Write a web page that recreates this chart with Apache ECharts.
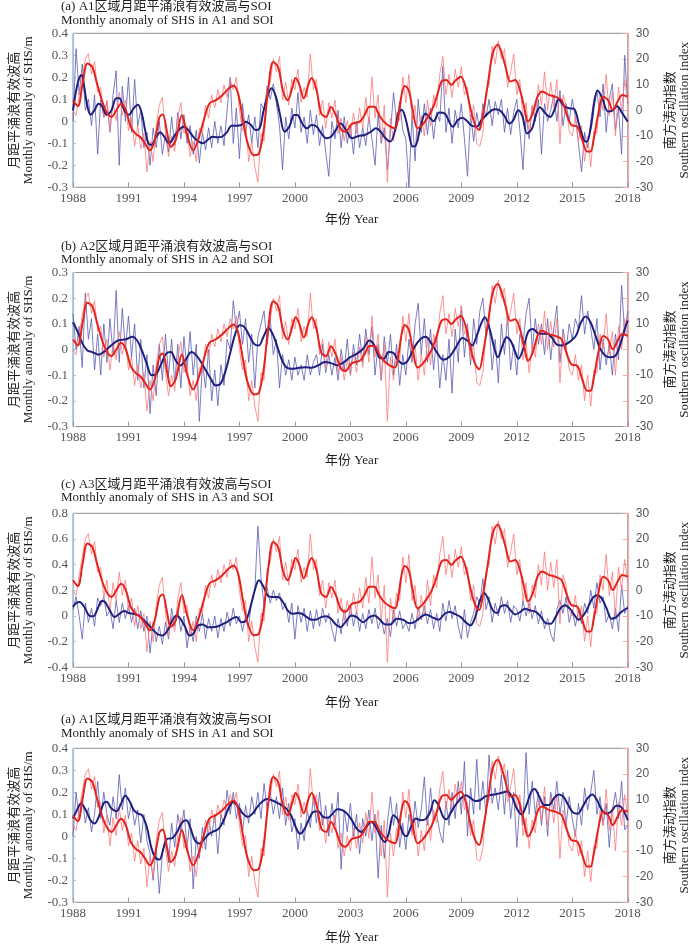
<!DOCTYPE html>
<html><head><meta charset="utf-8">
<script src="https://cdn.jsdelivr.net/npm/echarts@6/dist/echarts.min.js"></script>
<style>html,body{margin:0;padding:0;background:#fff}#c{width:700px;height:944px}</style>
</head><body><div id="c"></div>
<script>
// ---------- DATA ----------
const START_YEAR = 1988;
const END_YEAR = 2018;
const titlesCN = ['(a) A1区域月距平涌浪有效波高与SOI','(b) A2区域月距平涌浪有效波高与SOI','(c) A3区域月距平涌浪有效波高与SOI','(a) A1区域月距平涌浪有效波高与SOI'];
const titlesEN = ['Monthly anomaly of SHS in A1 and SOI','Monthly anomaly of SHS in A2 and SOI','Monthly anomaly of SHS in A3 and SOI','Monthly anomaly of SHS in A1 and SOI'];
const leftMin = [-0.3,-0.3,-0.4,-0.3];
const leftMax = [0.4,0.3,0.8,0.4];
const leftStep = [0.1,0.1,0.2,0.1];
const soiMin = -30, soiMax = 30, soiStep = 10;
const yearStep = 3;
const leftName = '月距平涌浪有效波高\nMonthly anomaly of SHS/m';
const rightName = '南方涛动指数\nSouthern oscillation index';
const xName = '年份 Year';

// bimonthly samples starting 1988.0 (6 per year)
const soiThin = [
0,-2,6,13,20,22, 14,19,7,9,-3,4, -8,3,-4,7,-2,4, -8,-3,-14,-6,-15,-9, -24,-12,-20,-6,2,5,
-9,-18,-10,-16,-3,3, -9,-6,-18,-12,-20,-7, -9,2,-3,6,1,8, 3,10,5,12,8,13, 0,-8,-4,-20,-12,-22,
-28,-9,-12,8,11,20, 15,21,4,11,2,12, 8,16,3,9,5,22, 8,12,-2,4,-7,3, -3,4,-9,-3,-12,-4,
-10,-1,-9,1,-7,5, -5,13,-3,6,-12,2, -28,-3,-12,-1,-4,13, 3,14,-4,2,-12,-2, -10,4,-6,6,1,14,
21,6,14,5,16,9, 17,6,9,-4,2,-13, -14,-9,7,10,25,18, 27,20,24,9,15,22, 6,12,-4,3,-9,2,
-3,10,2,15,0,11, 1,12,-13,6,2,-8, -10,-2,-12,-6,-20,-10, -22,-8,-9,6,0,14, -2,7,-10,9,0,12,
3];
const soiSmooth = [[1988.0,3.9],[1988.26,1.6],[1988.52,10.4],[1988.78,18.2],[1989.04,16.9],[1989.3,10.4],[1989.56,3.9],[1989.82,-0.7],[1990.08,-2.6],[1990.34,0],[1990.6,2.6],[1990.86,0],[1991.12,-6.5],[1991.38,-9.1],[1991.64,-10.4],[1991.9,-13],[1992.16,-15.6],[1992.42,-11.7],[1992.68,-2.6],[1992.85,-1.6],[1993.1,-9.1],[1993.28,-14.3],[1993.55,-11.7],[1993.89,-1.9],[1994.15,-9.1],[1994.5,-15.6],[1994.76,-11.7],[1995.02,-5.2],[1995.37,2.6],[1995.71,3.9],[1996.06,5.8],[1996.41,8.4],[1996.67,9.7],[1996.93,6.5],[1997.19,-3.9],[1997.45,-13],[1997.79,-17.5],[1998.05,-16.9],[1998.31,-7.8],[1998.57,9.1],[1998.83,18.8],[1999.09,16.9],[1999.35,7.8],[1999.61,3.9],[1999.87,9.1],[2000.04,12.6],[2000.22,10.4],[2000.48,4.7],[2000.74,10.4],[2000.91,12.6],[2001.17,7.8],[2001.43,-1.3],[2001.69,-2.6],[2001.95,1.3],[2002.21,-1.9],[2002.47,-7.1],[2002.73,-8.4],[2003.08,-5.3],[2003.51,-4.4],[2003.77,-1.8],[2004.03,1.4],[2004.29,1.4],[2004.55,-1.8],[2004.81,-4.4],[2005.16,-6.4],[2005.42,-7.0],[2005.59,-2.5],[2005.77,6.0],[2005.94,9.5],[2006.15,7.9],[2006.37,0.1],[2006.63,-7.0],[2006.89,-5.7],[2007.15,-3.1],[2007.41,0.1],[2007.67,5.3],[2007.93,11.2],[2008.19,11.8],[2008.45,9.9],[2008.71,11.8],[2008.97,13.1],[2009.23,9.2],[2009.49,0.8],[2009.75,-5.7],[2009.96,-7.7],[2010.18,-1.2],[2010.44,10.5],[2010.7,22.2],[2010.96,25.5],[2011.13,23.5],[2011.39,17.0],[2011.65,11.2],[2011.91,11.8],[2012.17,7.9],[2012.43,0.1],[2012.6,-4.4],[2012.86,-1.2],[2013.12,5.3],[2013.38,7.3],[2013.73,6.0],[2014.07,5.3],[2014.42,4.0],[2014.68,-1.2],[2014.94,-5.7],[2015.28,-6.4],[2015.54,-11.6],[2015.8,-16.1],[2015.98,-16.1],[2016.15,-11.6],[2016.41,-1.2],[2016.67,5.3],[2016.93,4.0],[2017.19,0.1],[2017.45,3.4],[2017.71,6.0],[2018.0,5.3]];

const shsThinA1 = [
0.0,0.33,0.12,0.26,0.05,0.1, -0.02,0.12,-0.15,0.1,0.02,0.09, -0.05,0.12,0.23,-0.2,0.16,0.0, 0.2,-0.05,0.19,-0.02,0.05,-0.12, -0.05,-0.2,-0.03,-0.12,0.0,-0.15,
-0.06,-0.14,0.02,-0.11,0.04,-0.08, 0.03,-0.1,-0.02,-0.15,-0.04,-0.19, -0.05,-0.13,-0.03,-0.12,0.0,-0.1, -0.02,-0.11,0.05,0.2,-0.1,0.06, -0.17,0.08,-0.05,0.03,-0.1,0.02,
-0.12,0.08,0.05,0.16,0.1,0.17, 0.08,-0.02,-0.22,0.02,-0.08,0.06, -0.03,0.13,-0.05,0.02,-0.1,0.05, -0.06,0.03,-0.11,-0.02,-0.14,-0.25, 0.0,-0.08,0.05,-0.12,0.02,-0.1,
-0.02,-0.15,0.0,-0.12,-0.03,-0.11, 0.02,-0.08,-0.2,0.03,-0.1,-0.03, -0.22,-0.05,0.13,0.0,0.09,-0.04, -0.08,-0.3,0.03,-0.18,0.1,-0.05, 0.08,-0.06,0.06,-0.08,0.04,0.0,
0.25,-0.05,0.06,-0.1,0.05,-0.03, 0.08,-0.08,-0.25,0.03,-0.09,0.04, -0.04,0.08,0.02,0.1,-0.02,0.09, 0.03,0.1,-0.05,0.06,-0.06,0.04, 0.1,-0.04,-0.22,0.03,-0.08,0.07,
0.0,0.1,-0.15,0.08,0.0,0.05, 0.12,0.0,0.14,-0.02,0.08,0.0, 0.1,0.02,-0.1,-0.23,-0.05,-0.12, 0.0,0.1,0.14,0.02,0.17,-0.05, 0.1,0.17,-0.04,0.06,-0.15,0.3,
0.08];
const shsSmoothA1 = [[1988.0,0.05],[1988.17,0.14],[1988.35,0.2],[1988.47,0.21],[1988.6,0.16],[1988.78,0.067],[1988.95,0.03],[1989.16,0.05],[1989.38,0.08],[1989.56,0.07],[1989.82,0.03],[1990.08,0.05],[1990.34,0.105],[1990.51,0.105],[1990.77,0.05],[1991.03,0.03],[1991.29,0.06],[1991.51,0.075],[1991.72,0.035],[1991.9,-0.04],[1992.07,-0.1],[1992.24,-0.107],[1992.5,-0.07],[1992.72,-0.05],[1992.93,-0.07],[1993.2,-0.1],[1993.46,-0.07],[1993.72,-0.04],[1993.98,-0.025],[1994.24,-0.04],[1994.5,-0.07],[1994.76,-0.09],[1995.02,-0.1],[1995.28,-0.085],[1995.54,-0.07],[1995.8,-0.073],[1996.06,-0.07],[1996.32,-0.05],[1996.58,-0.02],[1996.84,-0.02],[1997.1,-0.017],[1997.36,-0.002],[1997.62,-0.017],[1997.88,-0.04],[1998.1,-0.03],[1998.31,0.05],[1998.57,0.127],[1998.74,0.15],[1998.97,0.112],[1999.18,0.036],[1999.44,-0.047],[1999.7,-0.024],[1999.96,0.029],[2000.13,0.029],[2000.39,-0.009],[2000.65,-0.032],[2000.91,-0.017],[2001.17,-0.024],[2001.43,-0.055],[2001.69,-0.077],[2001.95,-0.07],[2002.21,-0.04],[2002.47,-0.01],[2002.8,-0.045],[2003.08,-0.077],[2003.43,-0.067],[2003.77,-0.062],[2004.12,-0.047],[2004.38,-0.032],[2004.64,-0.047],[2004.9,-0.077],[2005.16,-0.092],[2005.42,-0.04],[2005.59,0.036],[2005.77,0.052],[2005.98,0.014],[2006.2,-0.07],[2006.37,-0.115],[2006.55,-0.108],[2006.8,-0.024],[2007.06,0.036],[2007.32,0.014],[2007.5,0.0],[2007.8,0.04],[2008.1,0.035],[2008.54,-0.025],[2008.8,0.005],[2009.06,0.016],[2009.32,0.0],[2009.58,-0.021],[2009.84,-0.024],[2010.1,0.006],[2010.44,0.036],[2010.79,0.055],[2011.04,0.052],[2011.3,0.029],[2011.6,-0.01],[2011.82,0.006],[2012.08,0.05],[2012.31,0.021],[2012.55,-0.055],[2012.83,-0.032],[2013.03,0.029],[2013.25,0.064],[2013.55,0.036],[2013.81,0.02],[2014.07,0.06],[2014.25,0.1],[2014.59,0.067],[2014.85,0.059],[2015.11,0.055],[2015.37,-0.017],[2015.63,-0.085],[2015.78,-0.093],[2016.01,-0.024],[2016.2,0.09],[2016.37,0.14],[2016.6,0.11],[2016.93,0.045],[2017.19,0.05],[2017.42,0.068],[2017.71,0.036],[2018.0,-0.002]];

const shsThinA2 = [
0.14,0.0,0.09,-0.07,0.22,0.04, 0.12,-0.08,0.06,-0.1,0.1,-0.05, 0.12,-0.02,0.23,-0.05,0.16,0.0, 0.13,-0.03,0.1,-0.12,0.04,-0.15, -0.02,-0.25,-0.06,-0.18,0.02,-0.12,
0.06,-0.1,0.04,-0.13,0.02,-0.15, 0.05,-0.08,0.07,-0.1,0.02,-0.28, -0.05,-0.15,0.0,-0.2,-0.08,-0.22, -0.06,-0.14,0.04,0.0,0.19,0.08, 0.15,0.02,0.12,-0.05,0.06,-0.15,
0.05,0.1,0.15,0.02,0.12,-0.02, 0.04,-0.15,-0.02,-0.1,-0.04,-0.12, -0.03,-0.1,-0.06,-0.12,-0.02,-0.1, -0.05,-0.02,-0.1,0.02,-0.09,-0.02, -0.1,-0.03,-0.12,0.0,-0.08,0.04,
-0.1,0.02,-0.06,0.06,-0.05,0.08, -0.02,0.09,-0.1,0.02,-0.12,0.05, -0.06,0.06,-0.1,0.02,-0.14,-0.02, -0.1,0.04,-0.05,0.1,0.18,-0.02, 0.12,-0.05,0.08,-0.08,0.05,-0.15,
-0.02,-0.12,0.04,-0.17,0.08,-0.05, 0.17,-0.03,0.1,-0.06,0.12,0.02, 0.15,0.2,0.05,0.1,-0.08,0.04, -0.13,0.1,-0.02,0.13,-0.08,0.02, -0.1,0.06,0.02,0.14,0.2,0.0,
0.12,0.02,0.1,-0.02,0.12,-0.04, 0.08,0.17,-0.05,0.08,0.0,0.1, 0.04,0.12,0.08,0.21,0.06,0.15, 0.08,0.0,0.12,-0.08,0.04,-0.06, 0.02,-0.1,0.06,-0.04,0.25,0.06,
0.15];
const shsSmoothA2 = [[1988.0,0.106],[1988.26,0.068],[1988.52,0.022],[1988.78,-0.004],[1989.04,-0.01],[1989.39,-0.02],[1989.65,-0.01],[1989.91,0.006],[1990.17,0.022],[1990.43,0.035],[1990.69,0.038],[1990.95,0.042],[1991.21,0.05],[1991.47,0.035],[1991.73,-0.004],[1991.99,-0.056],[1992.25,-0.1],[1992.51,-0.095],[1992.77,-0.056],[1993.03,-0.017],[1993.29,-0.01],[1993.55,-0.043],[1993.81,-0.062],[1994.07,-0.043],[1994.41,-0.01],[1994.67,-0.023],[1994.93,-0.05],[1995.19,-0.082],[1995.45,-0.114],[1995.71,-0.14],[1995.97,-0.134],[1996.23,-0.088],[1996.49,-0.017],[1996.75,0.055],[1997.01,0.094],[1997.27,0.087],[1997.53,0.055],[1997.79,0.022],[1998.05,0.016],[1998.3,0.05],[1998.57,0.084],[1998.8,0.06],[1999.0,0.022],[1999.27,-0.036],[1999.53,-0.069],[1999.87,-0.075],[2000.22,-0.071],[2000.57,-0.069],[2000.91,-0.071],[2001.26,-0.062],[2001.61,-0.049],[2001.95,-0.053],[2002.3,-0.062],[2002.65,-0.049],[2002.99,-0.03],[2003.34,-0.017],[2003.69,0.003],[2004.03,0.035],[2004.29,0.016],[2004.55,-0.03],[2004.81,-0.036],[2005.07,-0.01],[2005.33,-0.014],[2005.59,-0.043],[2005.85,-0.056],[2006.11,-0.043],[2006.46,0.009],[2006.81,0.042],[2007.07,0.05],[2007.33,0.029],[2007.67,-0.01],[2008.02,-0.04],[2008.37,-0.027],[2008.71,0.009],[2009.06,0.045],[2009.32,0.035],[2009.58,0.016],[2009.84,0.055],[2010.1,0.106],[2010.27,0.126],[2010.53,0.08],[2010.79,0.003],[2010.97,-0.03],[2011.23,0.016],[2011.45,0.048],[2011.66,0.035],[2011.92,-0.01],[2012.09,-0.036],[2012.35,0.003],[2012.61,0.068],[2012.87,0.08],[2013.13,0.064],[2013.39,0.061],[2013.65,0.061],[2013.91,0.045],[2014.17,0.019],[2014.43,0.016],[2014.69,0.022],[2014.95,0.035],[2015.21,0.055],[2015.47,0.106],[2015.73,0.129],[2015.99,0.106],[2016.25,0.055],[2016.51,0.003],[2016.77,-0.023],[2017.03,-0.03],[2017.29,-0.027],[2017.55,0.009],[2017.81,0.074],[2018.0,0.113]];

const shsThinA3 = [
0.05,0.15,0.0,-0.18,0.1,-0.05, 0.06,-0.08,0.14,0.08,0.15,0.0, 0.05,-0.1,0.12,-0.05,0.1,-0.02, 0.08,-0.05,0.06,-0.1,0.04,-0.12, 0.0,-0.29,-0.05,-0.2,-0.08,-0.22,
-0.05,-0.18,0.06,-0.08,0.05,-0.12, 0.0,-0.25,-0.08,-0.2,0.0,-0.12, 0.02,-0.18,-0.02,-0.12,0.0,-0.17, -0.02,-0.12,0.03,-0.08,0.06,-0.06, 0.0,-0.12,0.0,-0.08,0.12,0.2,
0.7,0.3,0.08,0.22,0.1,0.2, 0.12,0.18,0.05,0.1,-0.05,0.1, -0.18,0.08,-0.05,0.06,-0.12,0.04, -0.1,0.05,-0.08,0.06,-0.05,0.02, -0.1,-0.2,-0.02,-0.14,0.05,-0.08,
0.08,-0.08,0.04,-0.12,0.02,-0.1, 0.05,-0.06,0.06,-0.1,-0.02,-0.14, -0.02,-0.16,0.05,-0.08,0.04,-0.1, -0.05,-0.12,0.02,-0.1,0.06,-0.03, 0.08,-0.06,0.05,-0.1,0.02,-0.12,
0.1,-0.04,0.12,-0.02,0.08,-0.08, -0.18,0.05,-0.17,-0.05,0.02,0.15, 0.1,0.29,0.05,0.15,-0.05,0.1, 0.0,0.15,0.02,0.12,-0.05,0.08, 0.05,-0.04,0.12,0.0,0.1,-0.02,
0.08,-0.06,0.04,-0.1,-0.02,-0.14, -0.2,0.05,0.12,0.02,0.15,-0.05, 0.05,-0.08,0.04,-0.06,0.1,0.02, 0.2,0.06,0.26,0.1,0.15,-0.05, 0.02,-0.1,0.06,-0.12,0.24,0.02,
0.08];
const shsSmoothA3 = [[1988.0,0.07],[1988.17,0.1],[1988.35,0.109],[1988.61,0.07],[1988.87,0.004],[1989.09,-0.003],[1989.3,0.044],[1989.56,0.117],[1989.73,0.109],[1989.99,0.044],[1990.25,-0.009],[1990.51,0.017],[1990.77,0.038],[1991.03,0.023],[1991.29,0.017],[1991.55,0.004],[1991.81,-0.03],[1992.07,-0.066],[1992.33,-0.108],[1992.59,-0.144],[1992.85,-0.152],[1993.11,-0.113],[1993.37,-0.035],[1993.6,0.004],[1993.81,-0.022],[1994.07,-0.087],[1994.29,-0.152],[1994.5,-0.139],[1994.76,-0.074],[1995.02,-0.066],[1995.28,-0.087],[1995.54,-0.087],[1995.8,-0.082],[1996.06,-0.066],[1996.32,-0.048],[1996.58,-0.022],[1996.84,-0.009],[1997.1,-0.048],[1997.36,-0.035],[1997.62,0.083],[1997.88,0.226],[1998.05,0.278],[1998.31,0.226],[1998.57,0.153],[1998.83,0.148],[1999.09,0.148],[1999.35,0.109],[1999.61,0.044],[1999.87,0.017],[2000.13,0.023],[2000.39,0.017],[2000.65,-0.009],[2000.91,-0.03],[2001.17,-0.027],[2001.43,-0.009],[2001.69,-0.003],[2001.95,-0.022],[2002.21,-0.066],[2002.47,-0.087],[2002.73,-0.048],[2003.08,0.004],[2003.34,-0.009],[2003.69,-0.048],[2004.03,-0.009],[2004.29,0.004],[2004.55,-0.022],[2004.9,-0.066],[2005.16,-0.066],[2005.5,-0.022],[2005.85,-0.03],[2006.2,-0.056],[2006.46,-0.048],[2006.81,-0.009],[2007.07,0.012],[2007.41,-0.009],[2007.76,-0.03],[2008.1,0.017],[2008.37,0.03],[2008.63,0.017],[2008.97,-0.009],[2009.23,-0.048],[2009.49,-0.074],[2009.75,-0.009],[2010.01,0.122],[2010.24,0.179],[2010.44,0.135],[2010.7,0.044],[2010.93,0.023],[2011.14,0.075],[2011.4,0.083],[2011.66,0.044],[2011.92,0.012],[2012.18,0.03],[2012.44,0.057],[2012.7,0.044],[2013.05,0.03],[2013.31,-0.009],[2013.57,-0.056],[2013.83,-0.061],[2014.09,-0.009],[2014.35,0.057],[2014.61,0.083],[2014.87,0.057],[2015.13,0.004],[2015.34,-0.03],[2015.56,-0.003],[2015.82,0.057],[2016.08,0.135],[2016.34,0.161],[2016.6,0.135],[2016.86,0.057],[2017.12,-0.022],[2017.38,-0.009],[2017.64,0.03],[2018.0,0.064]];

const shsThinA4 = [
0.0,0.2,0.08,0.18,0.06,0.13, 0.02,0.1,0.25,0.08,0.2,0.1, 0.05,0.18,0.08,0.28,0.12,0.22, 0.08,0.15,0.05,0.12,-0.03,0.1, -0.02,-0.08,-0.2,-0.05,-0.26,-0.08,
0.0,-0.12,0.06,-0.05,0.1,0.02, 0.12,-0.05,0.08,-0.24,0.0,-0.1, 0.04,-0.06,0.08,0.0,0.1,-0.08, 0.1,0.05,0.21,0.1,0.2,0.08, 0.15,0.02,0.14,0.06,0.18,0.1,
0.2,0.08,0.24,0.12,0.2,0.1, 0.18,0.08,0.22,0.05,0.15,0.02, 0.08,-0.06,0.06,-0.02,0.12,0.04, 0.18,0.06,0.2,0.05,0.14,0.0, 0.15,0.05,0.2,-0.15,0.12,0.02,
0.15,0.0,0.1,-0.08,0.08,0.0, 0.12,-0.02,0.1,-0.19,0.05,-0.1, 0.06,0.18,0.05,0.15,-0.05,0.06, -0.06,0.1,0.02,0.16,0.04,0.12, 0.27,0.05,0.22,0.08,0.1,0.02,
-0.03,0.16,0.05,0.2,0.08,0.25, 0.1,0.34,0.0,0.22,0.1,0.35, 0.12,0.25,0.1,0.37,0.15,0.22, 0.12,0.28,0.1,0.3,0.08,0.2, -0.05,0.15,0.05,0.38,0.1,0.25,
0.1,0.2,0.05,0.18,0.0,0.2, 0.12,0.25,0.1,0.2,0.05,0.18, 0.08,0.0,0.15,0.05,0.22,0.12, 0.2,0.3,0.1,0.18,0.05,0.15, -0.05,0.12,0.2,0.08,0.25,0.03,
0.05];
const shsSmoothA4 = [[1988.0,0.081],[1988.17,0.111],[1988.43,0.149],[1988.69,0.119],[1988.95,0.073],[1989.16,0.058],[1989.39,0.088],[1989.65,0.149],[1989.82,0.157],[1990.08,0.126],[1990.34,0.114],[1990.6,0.149],[1990.82,0.184],[1991.03,0.164],[1991.29,0.119],[1991.52,0.103],[1991.73,0.096],[1991.99,0.043],[1992.25,-0.056],[1992.51,-0.102],[1992.68,-0.105],[1992.91,-0.049],[1993.11,-0.011],[1993.37,-0.008],[1993.63,0.02],[1993.89,0.062],[1994.12,0.073],[1994.33,0.043],[1994.59,-0.018],[1994.85,-0.033],[1995.11,-0.011],[1995.37,0.012],[1995.63,0.023],[1995.89,0.035],[1996.15,0.073],[1996.41,0.126],[1996.67,0.157],[1996.93,0.134],[1997.19,0.103],[1997.45,0.088],[1997.71,0.103],[1997.97,0.134],[1998.23,0.157],[1998.49,0.169],[1998.75,0.164],[1999.01,0.154],[1999.27,0.142],[1999.53,0.126],[1999.79,0.096],[2000.04,0.043],[2000.27,0.012],[2000.48,0.027],[2000.74,0.073],[2001.0,0.111],[2001.26,0.114],[2001.52,0.088],[2001.78,0.084],[2002.04,0.103],[2002.3,0.123],[2002.56,0.119],[2002.82,0.103],[2003.08,0.073],[2003.34,0.035],[2003.6,0.02],[2003.86,0.043],[2004.12,0.065],[2004.38,0.043],[2004.64,-0.003],[2004.86,-0.026],[2005.07,0.012],[2005.33,0.096],[2005.59,0.073],[2005.85,0.012],[2006.02,0.0],[2006.28,0.043],[2006.54,0.081],[2006.81,0.073],[2007.07,0.078],[2007.33,0.114],[2007.54,0.164],[2007.76,0.142],[2008.02,0.088],[2008.2,0.078],[2008.45,0.111],[2008.71,0.145],[2008.97,0.172],[2009.23,0.187],[2009.49,0.175],[2009.75,0.16],[2010.01,0.164],[2010.27,0.18],[2010.53,0.187],[2010.79,0.19],[2011.05,0.195],[2011.31,0.2],[2011.48,0.205],[2011.74,0.18],[2012.0,0.126],[2012.26,0.099],[2012.52,0.142],[2012.78,0.202],[2012.96,0.215],[2013.22,0.18],[2013.48,0.142],[2013.74,0.142],[2014.0,0.172],[2014.26,0.19],[2014.52,0.18],[2014.78,0.142],[2015.04,0.108],[2015.3,0.103],[2015.56,0.134],[2015.82,0.172],[2016.08,0.19],[2016.34,0.164],[2016.6,0.119],[2016.86,0.103],[2017.12,0.114],[2017.38,0.139],[2017.64,0.134],[2018.0,0.073]];

const shsThin = [shsThinA1, shsThinA2, shsThinA3, shsThinA4];
const shsSmooth = [shsSmoothA1, shsSmoothA2, shsSmoothA3, shsSmoothA4];

// ---------- LAYOUT ----------
const gridTop = [33.3, 272.5, 513.3, 748.3];
const titleY1 = [7, 247, 485, 720];
const titleY2 = [21, 260.5, 498.5, 734];
const xNameY = [220, 461, 703, 938];
const FONT = '"Liberation Serif","Noto Sans CJK SC",serif';
const nameStyle = {fontSize: 13, fontFamily: FONT, color: '#1e1e1e', lineHeight: 14};

const grids = [], xs = [], ys = [], ss = [], gr = [];
for (let i = 0; i < 4; i++) {
  grids.push({left: 65, top: gridTop[i], width: 577, height: 154, show: true, borderColor: '#8f8f8f', borderWidth: 1, containLabel: false});
  xs.push({gridIndex: i, type: 'value', position: 'bottom', min: 0, max: END_YEAR - START_YEAR, interval: yearStep,
    axisLine: {show: false, onZero: false},
    axisTick: {show: true, inside: true, length: 5, lineStyle: {color: '#9a9a9a'}},
    axisLabel: {formatter: v => String(START_YEAR + Math.round(v)), fontSize: 13, fontFamily: FONT, margin: 5},
    splitLine: {show: false}});
  ys.push({gridIndex: i, type: 'value', position: 'left', min: leftMin[i], max: leftMax[i], interval: leftStep[i],
    name: leftName, nameLocation: 'middle', nameRotate: 90, nameGap: 37, nameTextStyle: nameStyle,
    axisLine: {show: true, onZero: false, lineStyle: {color: '#9cc4e6', width: 1.2}},
    axisTick: {show: true, inside: true, length: 3, lineStyle: {color: '#9cc4e6'}},
    axisLabel: {fontSize: 13, fontFamily: FONT, margin: 5}, splitLine: {show: false}});
  ys.push({gridIndex: i, type: 'value', position: 'right', min: soiMin, max: soiMax, interval: soiStep,
    name: rightName, nameLocation: 'middle', nameRotate: 90, nameGap: 26, nameTextStyle: nameStyle,
    axisLine: {show: true, onZero: false, lineStyle: {color: '#f7a9a9', width: 1.2}},
    axisTick: {show: true, inside: true, length: 5}, splitLine: {show: false}});
  const c = {type: 'line', xAxisIndex: i, showSymbol: false, symbol: 'none', silent: true};
  ss.push(Object.assign({}, c, {yAxisIndex: 2*i, data: shsThin[i].map((v, k) => [k / 6, v]), lineStyle: {width: 0.8, color: '#5c5cb4'}}));
  ss.push(Object.assign({}, c, {yAxisIndex: 2*i + 1, data: soiThin.map((v, k) => [k / 6, v]), lineStyle: {width: 0.8, color: '#ff7a7a'}}));
  ss.push(Object.assign({}, c, {yAxisIndex: 2*i, smooth: 0.35, data: shsSmooth[i].map(p => [p[0] - START_YEAR, p[1]]), lineStyle: {width: 2, color: '#1f1f7d'}}));
  ss.push(Object.assign({}, c, {yAxisIndex: 2*i + 1, smooth: 0.35, data: soiSmooth.map(p => [p[0] - START_YEAR, p[1]]), lineStyle: {width: 2, color: '#e3231e'}}));

  gr.push({type: 'text', left: 61, top: titleY1[i] - 7, style: {text: titlesCN[i], fontSize: 13, fontFamily: FONT, fill: '#1e1e1e'}});
  gr.push({type: 'text', left: 61, top: titleY2[i] - 7, style: {text: titlesEN[i], fontSize: 13, fontFamily: FONT, fill: '#1e1e1e'}});
  gr.push({type: 'text', left: 325, top: xNameY[i] - 7, style: {text: xName, fontSize: 13, fontFamily: FONT, fill: '#1e1e1e'}});
}
const chart = echarts.init(document.getElementById('c'));
chart.setOption({backgroundColor: '#ffffff', animation: false, grid: grids, xAxis: xs, yAxis: ys, series: ss, graphic: {elements: gr}});
</script></body></html>
